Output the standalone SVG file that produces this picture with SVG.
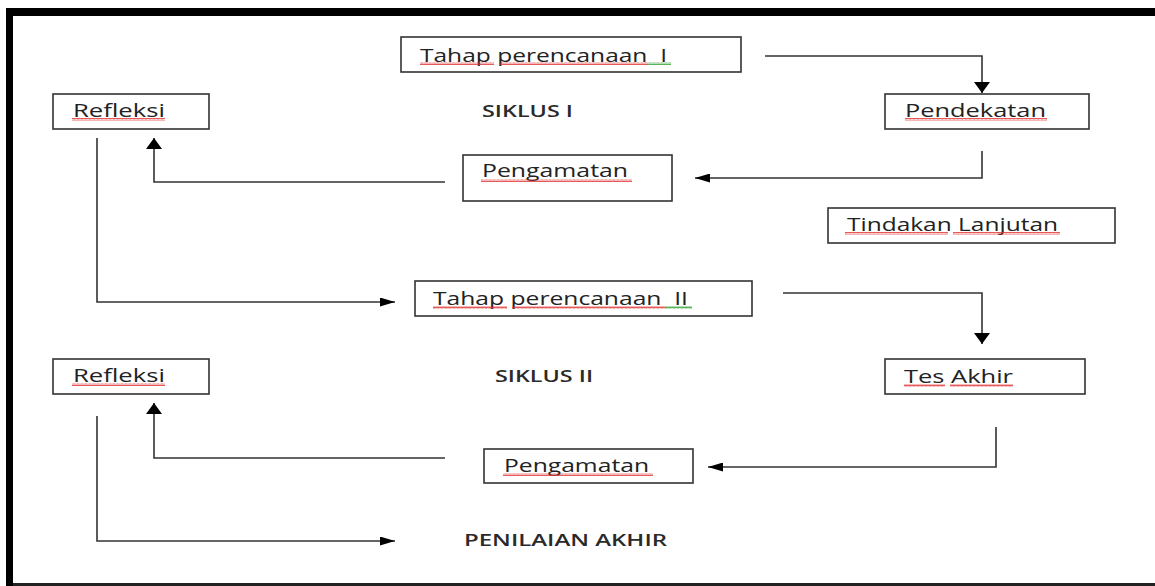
<svg xmlns="http://www.w3.org/2000/svg" width="1155" height="586" viewBox="0 0 1155 586">
<style>
.box{fill:#fff;stroke:#333;stroke-width:1.6}
.t{font-family:"Open Sans","Liberation Sans",sans-serif;font-size:18px;fill:#222}
.b{font-family:"Open Sans","Liberation Sans",sans-serif;font-size:16px;font-weight:600;fill:#2a2a2a}
.con{fill:none;stroke:#333;stroke-width:1.6}
.sq{fill:url(#red)}
.sg{fill:url(#green)}
</style>
<defs>
<pattern id="red" width="4" height="3" patternUnits="userSpaceOnUse"><path d="M0,2.5 L1,0.5 L2,2.5 L3,0.5 L4,2.5" fill="none" stroke="#e03030" stroke-width="0.8"/></pattern>
<pattern id="green" width="4" height="3" patternUnits="userSpaceOnUse"><path d="M0,2.5 L1,0.5 L2,2.5 L3,0.5 L4,2.5" fill="none" stroke="#30a030" stroke-width="0.8"/></pattern>
<marker id="arrV" markerUnits="userSpaceOnUse" viewBox="0 0 11 16" markerWidth="11" markerHeight="16" refX="11" refY="8" orient="auto"><path d="M0,0 L11,8 L0,16 z" fill="#000"/></marker>
<marker id="arrH" markerUnits="userSpaceOnUse" viewBox="0 0 15 9" markerWidth="15" markerHeight="9" refX="15" refY="4.5" orient="auto"><path d="M0,0 L15,4.5 L0,9 z" fill="#000"/></marker>
</defs>
<rect width="1155" height="586" fill="#fff"/>
<g id="frame">
<rect x="6" y="8" width="1149" height="8" fill="#000"/>
<rect x="6" y="8" width="7" height="578" fill="#000"/>
<rect x="13" y="583" width="1142" height="3" fill="#222"/>
</g>
<g id="connectors">
<path class="con" d="M765,56 H982 V93" marker-end="url(#arrV)"/>
<path class="con" d="M982,151 V178 H695" marker-end="url(#arrH)"/>
<path class="con" d="M445,182 H154 V138" marker-end="url(#arrV)"/>
<path class="con" d="M97,138 V302 H395" marker-end="url(#arrH)"/>
<path class="con" d="M783,293 H982 V344" marker-end="url(#arrV)"/>
<path class="con" d="M996,427 V467 H708" marker-end="url(#arrH)"/>
<path class="con" d="M445,458 H154 V403" marker-end="url(#arrV)"/>
<path class="con" d="M97,416 V541 H395" marker-end="url(#arrH)"/>
</g>
<g id="tahap1">
<rect class="box" x="401" y="37" width="340" height="35"/>
<text class="t" x="420" y="62" textLength="247" lengthAdjust="spacingAndGlyphs" xml:space="preserve">Tahap perencanaan  I</text>
<rect class="sq" x="420" y="62" width="74" height="3"/><rect class="sq" x="499" y="62" width="149" height="3"/><rect class="sg" x="648" y="62" width="23" height="3"/>
</g>
<g id="refleksi1">
<rect class="box" x="53" y="94" width="156" height="35"/>
<text class="t" x="73" y="117" textLength="92" lengthAdjust="spacingAndGlyphs">Refleksi</text>
<rect class="sq" x="72" y="118" width="93" height="3"/>
</g>
<g id="siklus1">
<text class="b" x="482" y="117" textLength="91" lengthAdjust="spacingAndGlyphs" xml:space="preserve">SIKLUS I</text>
</g>
<g id="pendekatan">
<rect class="box" x="885" y="94" width="204" height="35"/>
<text class="t" x="905" y="117" textLength="141" lengthAdjust="spacingAndGlyphs">Pendekatan</text>
<rect class="sq" x="905" y="118" width="142" height="3"/>
</g>
<g id="pengamatan1">
<rect class="box" x="463" y="155" width="209" height="46"/>
<text class="t" x="482" y="177" textLength="146" lengthAdjust="spacingAndGlyphs">Pengamatan</text>
<rect class="sq" x="481" y="179" width="151" height="3"/>
</g>
<g id="tindakan">
<rect class="box" x="828" y="208" width="287" height="35"/>
<text class="t" x="847" y="231" textLength="211" lengthAdjust="spacingAndGlyphs">Tindakan Lanjutan</text>
<rect class="sq" x="845" y="232" width="103" height="3"/><rect class="sq" x="953" y="232" width="107" height="3"/>
</g>
<g id="tahap2">
<rect class="box" x="415" y="281" width="337" height="35"/>
<text class="t" x="433" y="305" textLength="255" lengthAdjust="spacingAndGlyphs" xml:space="preserve">Tahap perencanaan  II</text>
<rect class="sq" x="433" y="306" width="74" height="3"/><rect class="sq" x="512" y="306" width="153" height="3"/><rect class="sg" x="665" y="306" width="27" height="3"/>
</g>
<g id="refleksi2">
<rect class="box" x="53" y="359" width="156" height="35"/>
<text class="t" x="73" y="382" textLength="92" lengthAdjust="spacingAndGlyphs">Refleksi</text>
<rect class="sq" x="72" y="383" width="93" height="3"/>
</g>
<g id="siklus2">
<text class="b" x="495" y="382" textLength="98" lengthAdjust="spacingAndGlyphs" xml:space="preserve">SIKLUS II</text>
</g>
<g id="tesakhir">
<rect class="box" x="885" y="359" width="200" height="35"/>
<text class="t" x="904" y="383" textLength="109" lengthAdjust="spacingAndGlyphs">Tes Akhir</text>
<rect class="sq" x="904" y="384" width="41" height="3"/><rect class="sq" x="950" y="384" width="63" height="3"/>
</g>
<g id="pengamatan2">
<rect class="box" x="484" y="449" width="209" height="34"/>
<text class="t" x="504" y="472" textLength="145" lengthAdjust="spacingAndGlyphs">Pengamatan</text>
<rect class="sq" x="503" y="473" width="150" height="3"/>
</g>
<g id="penilaian">
<text class="b" x="464" y="546" textLength="203" lengthAdjust="spacingAndGlyphs">PENILAIAN AKHIR</text>
</g>
</svg>
